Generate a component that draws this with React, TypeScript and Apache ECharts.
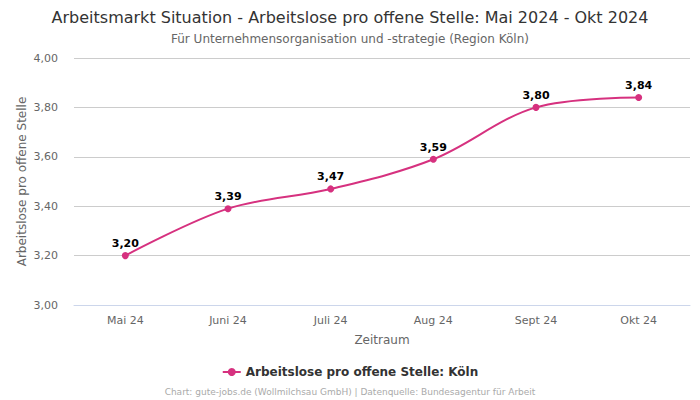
import React, { useEffect, useRef } from "react";
import * as echarts from "echarts";

const categories = ["Mai 24", "Juni 24", "Juli 24", "Aug 24", "Sept 24", "Okt 24"];
const values = [3.2, 3.39, 3.47, 3.59, 3.8, 3.84];
const seriesName = "Arbeitslose pro offene Stelle: Köln";
const titleText = "Arbeitsmarkt Situation - Arbeitslose pro offene Stelle: Mai 2024 - Okt 2024";
const subtitleText = "Für Unternehmensorganisation und -strategie (Region Köln)";
const footerText = "Chart: gute-jobs.de (Wollmilchsau GmbH) | Datenquelle: Bundesagentur für Arbeit";

const fmt = (v: number) => v.toFixed(2).replace(".", ",");

export default function App() {
  const ref = useRef<HTMLDivElement>(null);
  useEffect(() => {
    const chart = echarts.init(ref.current!, null, { renderer: "svg" });
    const font = "DejaVu Sans";
    chart.setOption({
      animation: false,
      textStyle: { fontFamily: font },
      title: [
        {
          text: titleText,
          left: "center",
          top: 4,
          textStyle: { fontSize: 16, fontWeight: "normal", color: "#333", fontFamily: font },
        },
        {
          text: subtitleText,
          left: "center",
          top: 28,
          textStyle: { fontSize: 12, fontWeight: "normal", color: "#666", fontFamily: font },
        },
        {
          text: footerText,
          left: "center",
          top: 382,
          textStyle: { fontSize: 9, fontWeight: "normal", color: "#aaa", fontFamily: font },
        },
      ],
      legend: {
        data: [seriesName],
        top: 361,
        left: "center",
        itemWidth: 18,
        itemHeight: 10,
        textStyle: { fontSize: 12, fontWeight: "bold", color: "#333", fontFamily: font },
      },
      grid: { left: 74, right: 10, top: 58, bottom: 95 },
      xAxis: {
        type: "category",
        data: categories,
        boundaryGap: true,
        name: "Zeitraum",
        nameLocation: "middle",
        nameGap: 29,
        nameMoveOverlap: false,
        nameTextStyle: { fontSize: 12, color: "#666", fontFamily: font },
        axisLine: { lineStyle: { color: "#ccd6eb" } },
        axisTick: { show: false },
        axisLabel: { fontSize: 11, color: "#666", margin: 10, fontFamily: font },
      },
      yAxis: {
        type: "value",
        min: 3,
        max: 4,
        interval: 0.2,
        name: "Arbeitslose pro offene Stelle",
        nameLocation: "middle",
        nameGap: 46,
        nameMoveOverlap: false,
        nameTextStyle: { fontSize: 12, color: "#666", fontFamily: font },
        axisLabel: { fontSize: 11, color: "#666", formatter: (v: number) => fmt(v), margin: 16, fontFamily: font },
        splitLine: { lineStyle: { color: "#ccc" } },
      },
      series: [
        {
          name: seriesName,
          type: "line",
          data: values,
          smooth: 0.35,
          symbol: "circle",
          symbolSize: 7,
          itemStyle: { color: "#d6317f" },
          lineStyle: { color: "#d6317f", width: 2 },
          label: {
            show: true,
            position: "top",
            distance: 3,
            formatter: (p: any) => fmt(p.value),
            fontSize: 11,
            fontWeight: "bold",
            color: "#000",
            fontFamily: font,
          },
        },
      ],
    });
    return () => chart.dispose();
  }, []);
  return <div ref={ref} style={{ width: 700, height: 400, position: "absolute", left: 0, top: 0 }} />;
}
